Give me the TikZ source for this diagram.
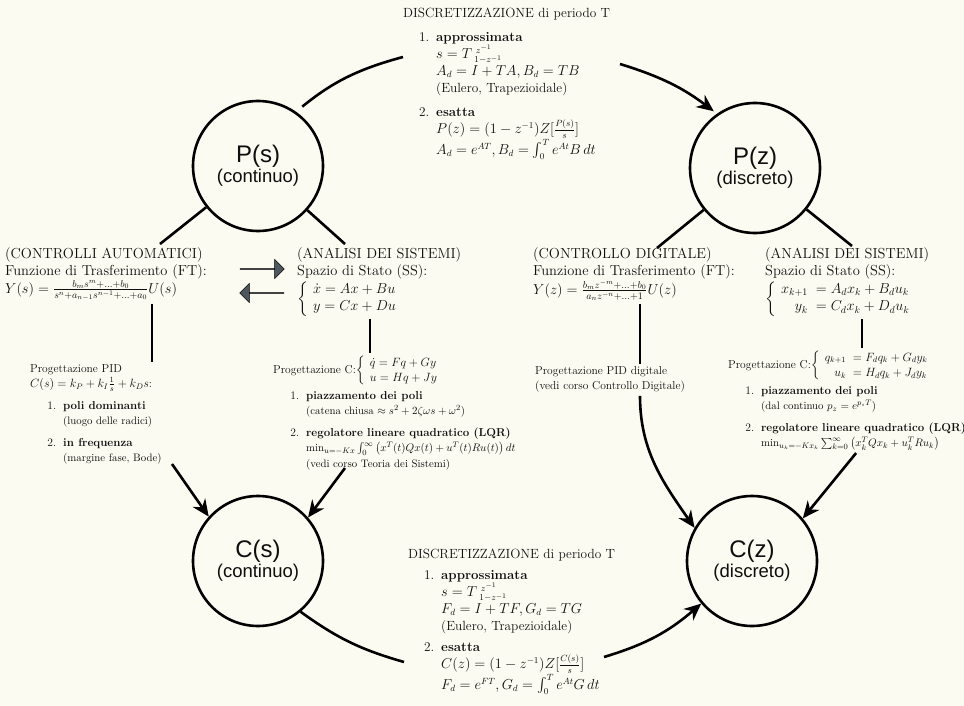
\documentclass[tikz,border=0pt]{standalone}
\usepackage{amsmath}
\usepackage{fontspec}
\newfontfamily\circfont{Liberation Sans}
\usetikzlibrary{arrows.meta,shapes.arrows,calc}
\definecolor{bgc}{RGB}{251,251,241}
\definecolor{txt}{RGB}{15,15,15}
\definecolor{agray}{RGB}{78,86,94}
\newcommand{\myitem}[1]{\makebox[26pt][r]{#1}\hspace{7pt}}
\newcommand{\indn}{\hspace*{33pt}}
\newcommand{\notefont}{\fontsize{10.8}{13}\selectfont}
\newcommand{\circtext}[2]{{\circfont\fontsize{24}{28}\selectfont #1}\\[1pt]{\circfont\fontsize{18.5}{21}\selectfont #2}}
\begin{document}
\begin{tikzpicture}[x=1pt,y=1pt,
  mainb/.style={font=\fontsize{14.5}{17.5}\selectfont, align=left, inner sep=0pt, anchor=north west, text=txt},
  disc/.style={font=\fontsize{13.3}{17}\selectfont, align=left, inner sep=0pt, anchor=north west, text=txt},
  prog/.style={font=\fontsize{11.5}{15.5}\selectfont, align=left, inner sep=0pt, anchor=north west, text=txt},
  circ/.style={circle, draw=black, line width=2.6pt, minimum size=130pt, inner sep=0pt, align=center, text=txt},
  conn/.style={line width=2.6pt, draw=black},
  arr/.style={conn, -{Stealth[length=17pt,width=15pt]}},
  barrow/.style={single arrow, fill=agray, draw=black, line width=0.5pt, minimum height=44pt, minimum width=19pt, single arrow head extend=5pt, inner sep=0pt}
]
\fill[bgc] (0,0) rectangle (964,-706);
\useasboundingbox (0,0) rectangle (964,-706);
\clip (0,0) rectangle (964,-706);

% circles
\node[circ] (ps) at (258,-166) {\circtext{P(s)}{(continuo)}};
\node[circ] (pz) at (755,-168) {\circtext{P(z)}{(discreto)}};
\node[circ] (cs) at (258,-561) {\circtext{C(s)}{(continuo)}};
\node[circ] (cz) at (752,-561) {\circtext{C(z)}{(discreto)}};

% top discretization
\node[disc] (dt) at (403,-8) {DISCRETIZZAZIONE di periodo T\\[7pt]
\myitem{1.}\textbf{approssimata}\\
\indn $s = T\,{}^{\,z^{-1}}_{1-z^{-1}}$\\
\indn $A_d = I + TA, B_d = TB$\\
\indn (Eulero, Trapezioidale)\\[7pt]
\myitem{2.}\textbf{esatta}\\
\indn $P(z) = (1 - z^{-1})Z[\frac{P(s)}{s}]$\\
\indn $A_d = e^{AT}, B_d = \int_0^T e^{At}B\,dt$};

% middle blocks
\node[mainb] (ca) at (5,-247) {(CONTROLLI AUTOMATICI)\\
Funzione di Trasferimento (FT):\\
$Y(s) = \frac{b_m s^m + \ldots + b_0}{s^n + a_{n-1}s^{n-1} + \ldots + a_0}U(s)$};
\node[mainb] (sa) at (297,-247) {(ANALISI DEI SISTEMI)\\
Spazio di Stato (SS):\\[1pt]
$\left\{\begin{array}{l}\dot x = Ax + Bu\\ y = Cx + Du\end{array}\right.$};
\node[mainb] (cd) at (533,-247) {(CONTROLLO DIGITALE)\\
Funzione di Trasferimento (FT):\\
$Y(z) = \frac{b_m z^{-m} + \ldots + b_0}{a_n z^{-n} + \ldots + 1}U(z)$};
\node[mainb] (sd) at (765,-247) {(ANALISI DEI SISTEMI)\\
Spazio di Stato (SS):\\[1pt]
$\left\{\begin{array}{r@{\;\;}l} x_{k+1} & = A_dx_k + B_du_k\\ y_k & = C_dx_k + D_du_k\end{array}\right.$};

\node[barrow] (ar1) at (262,-269) {};
\node[barrow, shape border rotate=180] (ar2) at (262,-293) {};

% design blocks
\node[prog] (pid) at (30,-364) {Progettazione PID\\
$C(s) = k_P + k_I\frac{1}{s} + k_Ds$:\\[6pt]
\myitem{1.}\textbf{poli dominanti}\\
\indn{\notefont (luogo delle radici)}\\[6pt]
\myitem{2.}\textbf{in frequenza}\\
\indn{\notefont (margine fase, Bode)}};

\node[prog] (pc) at (273,-355) {Progettazione C:$\left\{\begin{array}{l}\dot q = Fq + Gy\\ u = Hq + Jy\end{array}\right.$\\[4pt]
\myitem{1.}\textbf{piazzamento dei poli}\\
\indn{\notefont (catena chiusa $\approx s^2 + 2\zeta\omega s + \omega^2$)}\\[6pt]
\myitem{2.}\textbf{regolatore lineare quadratico (LQR)}\\
\indn{\notefont $\min_{u=-Kx}\int_0^\infty\left(x^T(t)Qx(t) + u^T(t)Ru(t)\right)dt$}\\
\indn{\notefont (vedi corso Teoria dei Sistemi)}};

\node[prog] (pidd) at (535,-366) {Progettazione PID digitale\\
(vedi corso Controllo Digitale)};

\node[prog] (pcd) at (728,-350) {Progettazione C:$\left\{\begin{array}{r@{\;\;}l} q_{k+1} & = F_dq_k + G_dy_k\\ u_k & = H_dq_k + J_dy_k\end{array}\right.$\\[4pt]
\myitem{1.}\textbf{piazzamento dei poli}\\
\indn{\notefont (dal continuo $p_z = e^{p_sT}$)}\\[6pt]
\myitem{2.}\textbf{regolatore lineare quadratico (LQR)}\\
\indn{\notefont $\min_{u_k=-Kx_k}\sum_{k=0}^\infty\left(x_k^TQx_k + u_k^TRu_k\right)$}};

% bottom discretization
\node[disc] (db) at (408,-549) {DISCRETIZZAZIONE di periodo T\\[4pt]
\myitem{1.}\textbf{approssimata}\\
\indn $s = T\,{}^{\,z^{-1}}_{1-z^{-1}}$\\
\indn $F_d = I + TF, G_d = TG$\\
\indn (Eulero, Trapezioidale)\\[4pt]
\myitem{2.}\textbf{esatta}\\
\indn $C(z) = (1 - z^{-1})Z[\frac{C(s)}{s}]$\\
\indn $F_d = e^{FT}, G_d = \int_0^T e^{At}G\,dt$};

% coordinates for free ends
\coordinate (tl) at (403,-57);
\coordinate (tr) at (620,-64);
\coordinate (bl) at (404,-662);
\coordinate (br) at (604,-657);
\coordinate (ca1) at (160,-244);
\coordinate (sa1) at (345,-244);
\coordinate (cd1) at (657,-248);
\coordinate (sd1) at (852,-246);
\coordinate (v1) at (152,0);
\coordinate (v2) at (370,0);
\coordinate (v3) at (640,0);
\coordinate (v4) at (862,0);
\coordinate (a1) at (172,-464);
\coordinate (a2) at (345,-468);
\coordinate (v6) at (858,0);

% discretization arcs
\draw[conn, shorten <=8pt] (ps.55) to[bend left=12] (tl);
\draw[arr, shorten >=4pt] (tr) to[bend left=10] (pz.125);
\draw[conn] (cs.-50) to[bend right=10] (bl);
\draw[arr] (br) to[bend right=12] (cz.-140);

% circle to blocks
\draw[conn] (ps) -- (ca1);
\draw[conn] (ps) -- (sa1);
\draw[conn] (pz) -- (cd1);
\draw[conn] (pz) -- (sd1);

% vertical links
\draw[conn, shorten <=3pt, shorten >=2pt] (ca.south -| v1) -- (pid.north -| v1);
\draw[conn, shorten <=3pt, shorten >=2pt] (sa.south -| v2) -- (pc.north -| v2);
\draw[conn, shorten <=3pt, shorten >=2pt] (cd.south -| v3) -- (pidd.north -| v3);
\draw[conn, shorten <=3pt, shorten >=2pt] (sd.south -| v4) -- (pcd.north -| v4);

% design to controllers
\draw[arr] (a1) -- (cs.138);
\draw[arr] (a2) -- (cs.41);
\draw[arr, shorten <=3pt] (pidd.south -| v3) to[out=-90, in=125] (cz.150);
\draw[arr, shorten <=3pt] (pcd.south -| v6) -- (cz.40);
\end{tikzpicture}
\end{document}
